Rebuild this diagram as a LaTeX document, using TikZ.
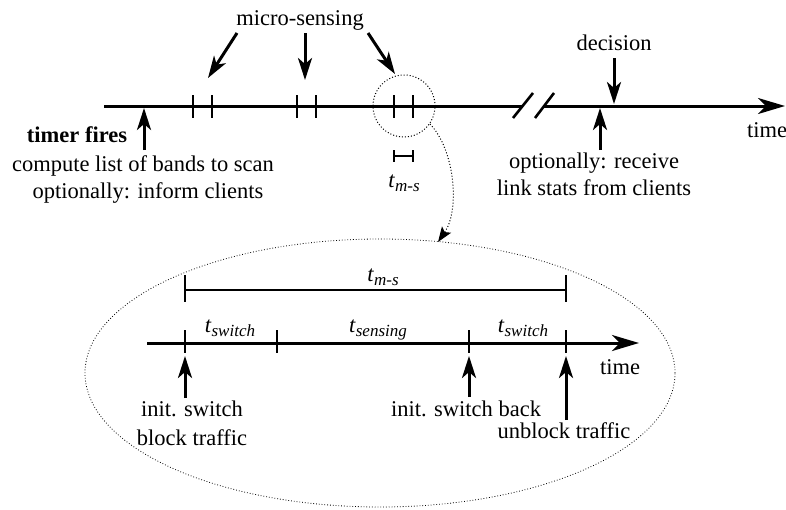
\documentclass[tikz,border=0pt]{standalone}
\usepackage{fontspec}
\setmainfont{Liberation Serif}
\newfontfamily\tms{Liberation Serif}
\usetikzlibrary{arrows.meta,shapes.geometric}
\newcommand{\tsub}[1]{\textit{t}\raisebox{-4pt}{\fontsize{17}{19}\selectfont\textit{#1}}}
\begin{document}
\begin{tikzpicture}[x=1pt,y=-1pt,
  lbl/.style={anchor=base,inner sep=0pt,font=\tms\fontsize{22.5}{27}\selectfont},
  axis/.style={line width=3pt},
  tick/.style={line width=2.6pt},
  arr/.style={line width=3pt,-{Stealth[length=22pt,width=14pt,inset=6pt]}},
  tarr/.style={line width=3pt,-{Stealth[length=27pt,width=16pt,inset=8pt]}},
  dots/.style={dotted,line width=1pt}]
\useasboundingbox (0,0) rectangle (786,509);

% ---------- main time line ----------
\coordinate (a0) at (104,106);
\coordinate (b1) at (523,106);
\coordinate (b2) at (544,106);
\coordinate (a1) at (785,106);
\draw[axis] (a0) -- (b1);
\draw[tarr] (b2) -- (a1);
\draw[tick] (513,118) -- (533,93);
\draw[tick] (535,118) -- (554,93);
\foreach \x in {193,212,297,316,394,413}
  \draw[tick] (\x,95) -- (\x,118);

% micro-sensing
\node[lbl] (ms) at (300,25) {micro-sensing};
\coordinate (m1s) at (237,33); \coordinate (m1e) at (208,78);
\coordinate (m2s) at (305,33); \coordinate (m2e) at (305,80);
\coordinate (m3s) at (368,33); \coordinate (m3e) at (395,74);
\draw[arr] (m1s) -- (m1e);
\draw[arr] (m2s) -- (m2e);
\draw[arr] (m3s) -- (m3e);

% timer fires
\node[lbl,font=\tms\fontsize{22.5}{27}\selectfont\bfseries] (tf) at (77,142) {timer fires};
\node[lbl] (cl) at (143,171) {compute list of bands to scan};
\node[lbl] (oi) at (148,198) {optionally: inform clients};
\coordinate (tfs) at (144,150); \coordinate (tfe) at (144,108);
\draw[arr] (tfs) -- (tfe);

% decision
\node[lbl] (dec) at (614,50) {decision};
\coordinate (ds) at (614,58); \coordinate (de) at (614,104);
\draw[arr] (ds) -- (de);

% optionally receive
\node[lbl] (or) at (594,168) {optionally: receive};
\node[lbl] (ls) at (594,195) {link stats from clients};
\coordinate (rs) at (600,150); \coordinate (re) at (600,108);
\draw[arr] (rs) -- (re);

\node[lbl] (time1) at (767,137) {time};

% zoom circle
\node[draw,dots,circle,minimum size=62pt,inner sep=0pt] (zc) at (404,106) {};
\draw[tick] (394,150) -- (394,162);
\draw[tick] (413,150) -- (413,162);
\draw[tick] (394,156) -- (413,156);
\node[lbl] (tms1) at (404,187) {\tsub{m-s}};

% dotted curved arrow
\coordinate (cs) at (430,124);
\coordinate (ce) at (438,242);
\draw[dots,-{Stealth[length=15pt,width=11pt,inset=3pt]}] (cs) .. controls (455,150) and (460,210) .. (ce);

% ellipse
\node[draw,dots,line width=0.8pt,ellipse,minimum width=590pt,minimum height=268pt,inner sep=0pt] (el) at (380,373) {};

% ---------- inner time line ----------
\coordinate (i0) at (147,343);
\coordinate (i1) at (639,343);
\draw[tarr] (i0) -- (i1);
\foreach \x in {185,277,469,566}
  \draw[tick] (\x,330) -- (\x,353);

\draw[tick] (185,290) -- (566,290);
\draw[tick] (185,275) -- (185,302);
\draw[tick] (566,275) -- (566,302);
\node[lbl] (tms2) at (383,281) {\tsub{m-s}};

\node[lbl] (tsw1) at (230,332) {\tsub{switch}};
\node[lbl] (tsen) at (378,332) {\tsub{sensing}};
\node[lbl] (tsw2) at (523,332) {\tsub{switch}};

\node[lbl] (time2) at (620,374) {time};

\node[lbl] (is) at (192,416) {init. switch};
\node[lbl] (bt) at (192,445) {block traffic};
\node[lbl] (isb) at (466,416) {init. switch back};
\node[lbl] (ut) at (564,438) {unblock traffic};

\coordinate (p1s) at (185,398); \coordinate (p1e) at (185,356);
\coordinate (p2s) at (469,397); \coordinate (p2e) at (469,356);
\coordinate (p3s) at (566,420); \coordinate (p3e) at (566,356);
\draw[arr] (p1s) -- (p1e);
\draw[arr] (p2s) -- (p2e);
\draw[arr] (p3s) -- (p3e);
\end{tikzpicture}
\end{document}
